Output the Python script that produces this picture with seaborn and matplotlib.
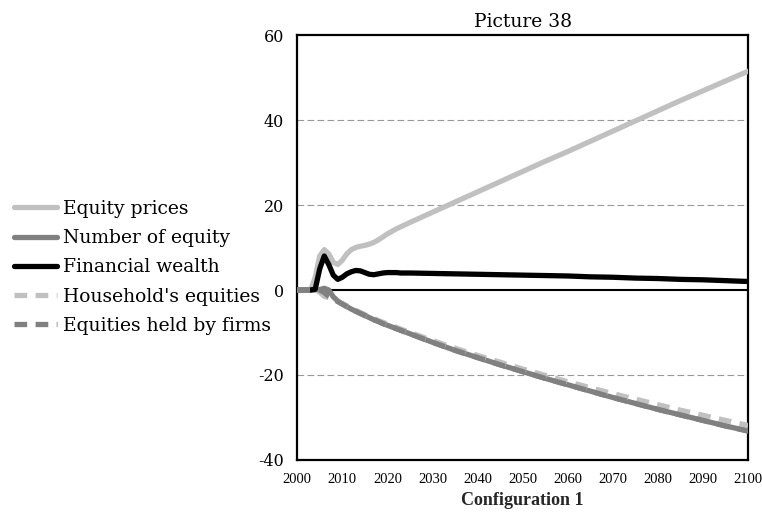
import numpy as np
import pandas as pd
import matplotlib
matplotlib.use("Agg")
import matplotlib.pyplot as plt
import seaborn as sns
from matplotlib.lines import Line2D

# 데이터
years = [2000, 2001, 2002, 2003, 2004, 2005, 2006, 2007, 2008, 2009, 2010,
         2011, 2012, 2013, 2014, 2015, 2016, 2017, 2018, 2019, 2020,
         2021, 2022, 2023, 2024, 2025, 2030, 2035, 2040, 2045, 2050,
         2055, 2060, 2065, 2070, 2075, 2080, 2085, 2090, 2095, 2100]

equity_prices = [0, 0, 0, 0, 3.0, 8.0, 9.5, 8.5, 6.5, 6.0, 7.0,
                 8.5, 9.5, 10.0, 10.3, 10.5, 10.8, 11.2, 11.8, 12.5, 13.2,
                 13.8, 14.4, 14.9, 15.4, 15.9, 18.3, 20.7, 23.1, 25.5, 27.9,
                 30.3, 32.6, 35.0, 37.4, 39.8, 42.2, 44.6, 46.9, 49.2, 51.5]

number_of_equity = [0, 0, 0, 0, 0, 0.1, 0.4, 0.0, -1.6, -2.6, -3.3,
                    -3.9, -4.5, -5.0, -5.5, -6.0, -6.5, -7.0, -7.4, -7.9, -8.3,
                    -8.7, -9.1, -9.5, -9.9, -10.3, -12.3, -14.2, -15.9, -17.6, -19.2,
                    -20.8, -22.3, -23.8, -25.3, -26.7, -28.1, -29.4, -30.7, -32.0, -33.2]

financial_wealth = [0, 0, 0, 0, 0.2, 5.0, 8.0, 6.0, 3.5, 2.5, 3.0,
                    3.8, 4.3, 4.6, 4.5, 4.1, 3.7, 3.6, 3.8, 4.0, 4.1,
                    4.1, 4.1, 4.0, 4.0, 4.0, 3.9, 3.8, 3.7, 3.6, 3.5,
                    3.4, 3.3, 3.1, 3.0, 2.8, 2.7, 2.5, 2.4, 2.2, 2.0]

household_equities = [0, 0, 0, 0, 0, -0.5, -1.5, -1.8, -2.2, -2.7, -3.2,
                      -3.7, -4.3, -4.8, -5.3, -5.8, -6.3, -6.7, -7.2, -7.6, -8.0,
                      -8.4, -8.8, -9.2, -9.6, -10.0, -11.9, -13.7, -15.4, -17.0, -18.6,
                      -20.1, -21.6, -23.0, -24.4, -25.7, -27.0, -28.3, -29.5, -30.7, -31.9]

firms_equities = [0, 0, 0, 0, 0, 0, -0.6, -1.5, -2.1, -2.7, -3.3,
                  -3.9, -4.5, -5.0, -5.5, -6.0, -6.5, -7.0, -7.4, -7.9, -8.3,
                  -8.7, -9.1, -9.5, -9.9, -10.3, -12.3, -14.2, -15.9, -17.6, -19.2,
                  -20.8, -22.3, -23.8, -25.3, -26.7, -28.1, -29.4, -30.7, -32.0, -33.2]

sns.set_style("white")
plt.rcParams['font.family'] = ['DejaVu Serif']
plt.rcParams['axes.unicode_minus'] = False
plt.rcParams['text.color'] = 'black'
plt.rcParams['xtick.color'] = 'black'
plt.rcParams['ytick.color'] = 'black'

fig = plt.figure(figsize=(7.62, 5.23), dpi=100)
ax = fig.add_axes([0.39, 0.1205, 0.592, 0.8125])

# 기준선과 보조선
ax.axhline(0, color='black', lw=1.5, zorder=1)
for v in [40, 20, -20]:
    ax.axhline(v, color='#999999', lw=0.8, ls=(0, (6, 3)), zorder=0)

series = [
    ("Equity prices", equity_prices, '#c0c0c0', '-'),
    ("Number of equity", number_of_equity, '#808080', '-'),
    ("Financial wealth", financial_wealth, 'black', '-'),
    ("Household's equities", household_equities, '#c0c0c0', (0, (2.4, 1.6))),
    ("Equities held by firms", firms_equities, '#808080', (0, (2.4, 1.6))),
]

handles = []
for name, vals, color, ls in series:
    sns.lineplot(x=years, y=vals, ax=ax, color=color, lw=3.8, linestyle=ls, zorder=3)
    handles.append(Line2D([0], [0], color=color, lw=3.8, linestyle=ls))

ax.set_xlim(2000, 2100)
ax.set_ylim(-40, 60)
ax.set_xticks(range(2000, 2101, 10))
ax.set_yticks(range(-40, 61, 20))
for lab in ax.get_xticklabels():
    lab.set_fontfamily('Liberation Serif')
ax.tick_params(axis='x', direction='out', length=6, width=1.5, labelsize=10.5)
ax.tick_params(axis='y', direction='out', length=6, width=1.5, labelsize=11.5)
for s in ax.spines.values():
    s.set_color('black')
    s.set_linewidth(1.6)

ax.set_title("Picture 38", fontsize=13.5, pad=6)
ax.set_xlabel("Configuration 1", fontsize=13, fontweight='bold', labelpad=4,
              fontfamily='Liberation Serif')
ax.set_ylabel("")

fig.legend(handles, [s[0] for s in series], loc='upper left',
           bbox_to_anchor=(0.008, 0.632), frameon=False, fontsize=13.5,
           handlelength=2.3, handletextpad=0.35, labelspacing=0.6, borderaxespad=0)

fig.savefig("out.png", dpi=100)
